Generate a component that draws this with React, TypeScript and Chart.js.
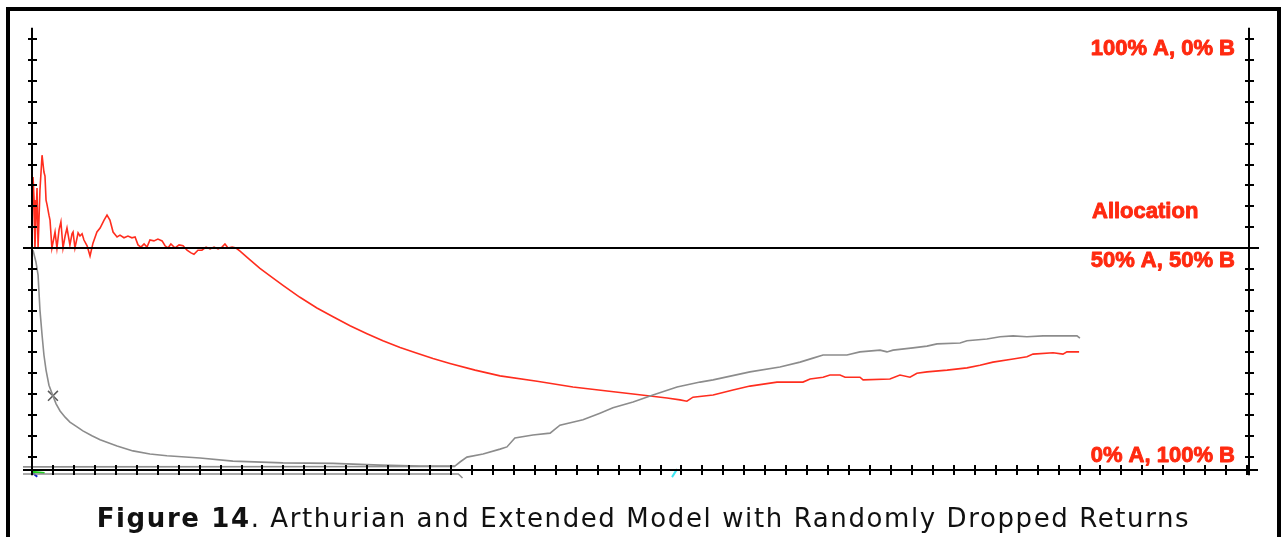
import { useEffect, useRef } from 'react';
import { Chart, registerables } from 'chart.js';

Chart.register(...registerables);

// ---- Data (x = trial number, y = allocation % in A) ----
const allocTrials = [
  0, 0.5, 1.0, 1.4, 2.4, 2.9, 3.8, 4.8, 5.7, 6.2, 6.7, 7.2, 8.1, 8.6, 9.5, 11.0, 11.9, 12.9, 13.8, 14.8,
  15.8, 16.7, 18.1, 19.1, 19.6, 20.5, 22.0, 22.9, 23.9, 24.8, 26.3, 27.7, 29.1, 31.0, 32.5, 34.4, 35.8, 37.2,
  38.7, 40.6, 42.0, 43.9, 45.8, 47.7, 49.2, 50.6, 52.0, 53.5, 54.9, 56.3, 58.2, 60.1, 62.1, 63.5, 64.9, 66.3,
  68.3, 70.2, 72.1, 74.0, 75.9, 77.3, 79.2, 81.1, 83.1, 85.0, 86.9, 88.8, 90.7, 92.1, 93.6, 95.5, 97.4,
  99.3, 103.1, 108.8, 114.6, 119.8, 127.9, 136.0, 143.7, 151.8, 159.9, 167.5, 175.7, 183.8, 191.4, 199.5,
  211.5, 223.4, 241.1, 258.2, 274.5, 286.9, 303.1, 309.3, 312.6,
  315.5, 325.1, 334.6, 342.7, 355.6, 368.0, 371.4, 377.6, 380.9, 385.7, 388.1,
  395.2, 396.7, 409.5, 414.3, 419.1, 422.4, 427.2, 436.8, 446.3, 452.5, 458.7, 468.3, 474.9, 477.8, 487.4,
  492.1, 494.0, 499.8,
];
const allocValues = [
  50.0, 66.0, 60.8, 50.0, 63.5, 50.0, 63.1, 70.9, 67.1, 66.2, 60.8, 59.7, 57.4, 56.3, 50.0, 53.6, 50.0, 54.1, 55.9, 50.0,
  52.7, 54.5, 50.7, 53.2, 53.6, 50.0, 53.4, 52.7, 53.2, 51.8, 50.5, 48.2, 51.1, 53.6, 54.5, 56.3, 57.4, 56.3,
  53.6, 52.5, 52.9, 52.3, 52.7, 52.3, 52.5, 50.7, 50.2, 50.9, 50.2, 51.8, 51.6, 52.0, 51.6, 50.5, 50.0, 50.9,
  50.0, 50.7, 50.5, 49.5, 48.9, 48.6, 49.5, 49.5, 50.2, 49.8, 50.2, 49.8, 50.2, 50.9, 50.0, 50.2, 50.0,
  49.3, 47.7, 45.4, 43.4, 41.6, 38.9, 36.5, 34.5, 32.5, 30.7, 29.1, 27.6, 26.3, 25.1, 24.0,
  22.5, 21.2, 20.0, 18.7, 17.8, 17.1, 16.2, 15.8, 15.5,
  16.4, 16.9, 18.0, 18.9, 19.8, 19.8, 20.5, 20.9, 21.4, 21.4, 20.9,
  20.9, 20.3, 20.5, 21.4, 20.9, 21.8, 22.1, 22.5, 23.0, 23.6, 24.3, 25.0, 25.5, 26.1, 26.4,
  26.1, 26.6, 26.6,
];

const extTrials = [
  0.5, 1.9, 2.9, 3.8, 4.8, 5.7, 6.7, 8.1, 10.0, 11.5, 13.4, 15.8, 18.1, 21.5, 24.3, 28.6, 32.5, 40.6, 48.2,
  56.3, 64.4, 80.2, 95.9, 119.8, 143.7, 166.1, 185.2, 201.9, 204.3, 207.6, 215.3, 223.4, 226.7, 230.5, 239.1,
  247.3, 252.0, 263.0, 271.1, 277.3, 286.9, 296.4, 307.9, 318.9, 325.1, 342.7, 357.0, 366.6, 372.8, 377.6,
  389.0, 395.2, 404.8, 408.1, 411.0, 420.5, 427.2, 432.0, 443.0, 446.3, 455.8, 462.1, 468.3, 474.9, 482.6,
  498.8, 500.2,
];
const extValues = [
  49.5, 46.8, 43.9, 36.0, 30.4, 25.9, 22.5, 19.1, 16.7, 14.9, 13.3, 11.9, 10.8, 9.7, 8.8, 7.7, 6.8, 5.4, 4.3,
  3.6, 3.2, 2.7, 2.0, 1.6, 1.5, 1.1, 0.9, 0.9, 1.8, 2.9, 3.6, 4.7, 5.2, 7.2, 7.9,
  8.3, 10.1, 11.3, 12.8, 14.0, 15.3, 16.9, 18.7, 19.8, 20.3, 22.1, 23.2, 24.3, 25.2, 25.9,
  25.9, 26.6, 27.0, 26.6, 27.0, 27.5, 27.9, 28.4, 28.6, 29.1, 29.5, 30.0, 30.2, 30.0, 30.2,
  30.2, 29.7,
];

const baseUpperTrials = [-4.3, 202];
const baseUpperValues = [0.7, 0.8];
const baseLowerTrials = [-4.3, 203.5, 205.5];
const baseLowerValues = [-0.9, -0.9, -1.8];
const markerTrials = [10.0];
const markerValues = [16.7];
const greenTrials = [0, 6];
const greenValues = [-0.4, -0.7];
const blueTrials = [0, 2.5];
const blueValues = [-0.5, -1.5];
const cyanTrials = [307.9, 305.5];
const cyanValues = [0.2, -1.6];

const xTickStep = 10;
const xTickLast = 580;
const xAxisEnd = 581;
const yTickStep = 4.7;
const yTickCount = 10; // each side of 50
const labelTop = '100% A, 0% B';
const labelMid = '50% A, 50% B';
const labelBottom = '0% A, 100% B';
const labelTitle = 'Allocation';

const RED = '#ff2d1e';
const LABEL_RED = '#ff2a10';
const GRAY = '#8c8c8c';

const pts = (xs: number[], ys: number[]) => xs.map((x, i) => ({ x, y: ys[i] }));

const axesPlugin = {
  id: 'axesDecor',
  afterDatasetsDraw(chart: any) {
    const { ctx, chartArea, scales } = chart;
    const xs = scales.x;
    const ys = scales.y;
    const x0 = Math.round(xs.getPixelForValue(0));
    const x1 = Math.round(xs.getPixelForValue(xAxisEnd));
    const yZero = Math.round(ys.getPixelForValue(0));
    const yMid = Math.round(ys.getPixelForValue(50));
    const yTop = ys.getPixelForValue(99.6);
    const yBot = ys.getPixelForValue(-1.2);
    ctx.save();
    ctx.strokeStyle = '#000';
    ctx.lineWidth = 2;
    const line = (a: number, b: number, c: number, d: number) => {
      ctx.beginPath();
      ctx.moveTo(a, b);
      ctx.lineTo(c, d);
      ctx.stroke();
    };
    line(chartArea.left, yZero, chartArea.right, yZero);
    line(chartArea.left, yMid, chartArea.right + 1, yMid);
    line(x0, yTop, x0, yBot);
    line(x1, yTop, x1, yBot);
    for (let k = -yTickCount; k <= yTickCount; k++) {
      const py = Math.round(ys.getPixelForValue(50 + k * yTickStep));
      line(x0 - 4, py, x0 + 5, py);
      line(x1 - 4, py, x1 + 5, py);
    }
    for (let t = 0; t <= xTickLast; t += xTickStep) {
      const px = Math.round(xs.getPixelForValue(t));
      line(px, yZero - 5, px, yZero + 5);
    }
    ctx.fillStyle = LABEL_RED;
    ctx.strokeStyle = LABEL_RED;
    ctx.lineWidth = 0.9;
    ctx.lineJoin = 'round';
    ctx.font = 'bold 22px "Liberation Sans", Arial, sans-serif';
    ctx.textBaseline = 'alphabetic';
    const txt = (s: string, x: number, y: number) => {
      ctx.fillText(s, x, y);
      ctx.strokeText(s, x, y);
    };
    ctx.textAlign = 'right';
    const rx = x1 - 14;
    txt(labelTop, rx, ys.getPixelForValue(100) + 29);
    txt(labelMid, rx, yMid + 19);
    txt(labelBottom, rx, yZero - 8);
    ctx.textAlign = 'left';
    txt(labelTitle, x1 - 157, yMid - 30);
    ctx.restore();
  },
};

export default function App() {
  const ref = useRef<HTMLCanvasElement>(null);
  useEffect(() => {
    if (!ref.current) return;
    const chart = new Chart(ref.current, {
      type: 'line',
      data: {
        datasets: [
          { label: 'baseUpper', data: pts(baseUpperTrials, baseUpperValues), borderColor: '#8f8f8f', borderWidth: 1.6, clip: false, pointRadius: 0 } as any,
          { label: 'baseLower', data: pts(baseLowerTrials, baseLowerValues), borderColor: '#8f8f8f', borderWidth: 1.6, clip: false, pointRadius: 0 } as any,
          { label: 'green', data: pts(greenTrials, greenValues), borderColor: '#1fd21f', borderWidth: 2, clip: false, pointRadius: 0 } as any,
          { label: 'blue', data: pts(blueTrials, blueValues), borderColor: '#1020c8', borderWidth: 2, clip: false, pointRadius: 0 } as any,
          { label: 'cyan', data: pts(cyanTrials, cyanValues), borderColor: '#40e6f2', borderWidth: 2, clip: false, pointRadius: 0 } as any,
          { label: 'Extended', data: pts(extTrials, extValues), borderColor: GRAY, borderWidth: 1.6, pointRadius: 0 },
          { label: 'Arthurian', data: pts(allocTrials, allocValues), borderColor: RED, borderWidth: 1.6, pointRadius: 0 },
          {
            type: 'scatter',
            label: 'marker',
            data: pts(markerTrials, markerValues),
            pointStyle: 'crossRot',
            pointRadius: 7,
            borderColor: '#5a5a5a',
            borderWidth: 1.5,
            showLine: false,
          } as any,
        ],
      },
      options: {
        animation: false,
        responsive: false,
        maintainAspectRatio: false,
        layout: { padding: { left: 23, right: 29, top: 26, bottom: 67 } },
        plugins: { legend: { display: false }, tooltip: { enabled: false }, title: { display: false } },
        elements: { line: { tension: 0 } },
        scales: {
          x: { type: 'linear', min: -4.296, max: 585.2, display: false },
          y: { type: 'linear', min: 0, max: 100, display: false },
        },
      },
      plugins: [axesPlugin],
    });
    return () => chart.destroy();
  }, []);

  return (
    <div style={{ position: 'fixed', left: 0, top: 0, width: 1287, height: 537, overflow: 'hidden', background: '#fff' }}>
      <div
        style={{
          position: 'absolute',
          left: 6,
          top: 7,
          width: 1267,
          height: 600,
          borderTop: '4px solid #000',
          borderLeft: '4px solid #000',
          borderRight: '4px solid #000',
          boxSizing: 'content-box',
        }}
      />
      <canvas ref={ref} width={1287} height={537} style={{ position: 'absolute', left: 0, top: 0, width: 1287, height: 537 }} />
      <div
        style={{
          position: 'absolute',
          left: 0,
          top: 503,
          width: 1287,
          textAlign: 'center',
          fontFamily: '"DejaVu Sans", sans-serif',
          fontSize: 26,
          lineHeight: '30px',
          letterSpacing: '1.6px',
          color: '#111',
          whiteSpace: 'nowrap',
        }}
      >
        <b>Figure 14</b>. Arthurian and Extended Model with Randomly Dropped Returns
      </div>
    </div>
  );
}
